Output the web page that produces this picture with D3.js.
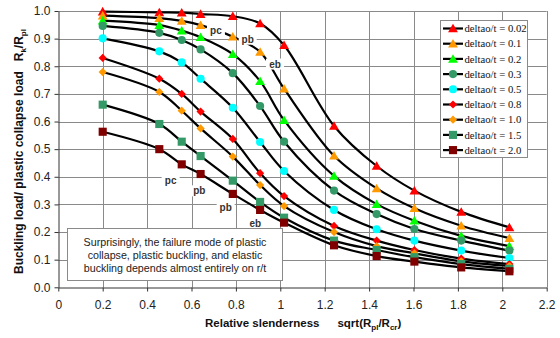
<!DOCTYPE html>
<html>
<head>
<meta charset="utf-8">
<script src="https://cdn.jsdelivr.net/npm/d3@7"></script>
<style>
  body { margin: 0; background: #fff; }
  svg { display: block; font-family: "Liberation Sans", Arial, sans-serif; }
</style>
</head>
<body>
<div id="chart"></div>
<script>
// relative slenderness values (x) shared by all series
const xValues = [0.2, 0.455, 0.556, 0.641, 0.786, 0.909, 1.017, 1.242, 1.434, 1.604, 1.815, 2.032];

// buckling load / plastic collapse load, one array per deltao/t
const s002 = [0.998, 0.995, 0.994, 0.989, 0.981, 0.955, 0.876, 0.584, 0.439, 0.350, 0.273, 0.217];
const s01  = [0.983, 0.974, 0.964, 0.949, 0.907, 0.852, 0.719, 0.476, 0.358, 0.286, 0.223, 0.178];
const s02  = [0.965, 0.949, 0.929, 0.905, 0.844, 0.746, 0.605, 0.403, 0.301, 0.241, 0.186, 0.149];
const s03  = [0.946, 0.921, 0.895, 0.861, 0.775, 0.656, 0.527, 0.350, 0.265, 0.211, 0.169, 0.133];
const s05  = [0.901, 0.854, 0.814, 0.755, 0.650, 0.526, 0.421, 0.280, 0.210, 0.169, 0.133, 0.106];
const s08  = [0.830, 0.755, 0.700, 0.636, 0.537, 0.413, 0.330, 0.222, 0.169, 0.135, 0.104, 0.084];
const s10  = [0.779, 0.707, 0.639, 0.575, 0.473, 0.370, 0.294, 0.200, 0.149, 0.123, 0.094, 0.077];
const s15  = [0.661, 0.591, 0.527, 0.475, 0.386, 0.309, 0.252, 0.169, 0.135, 0.109, 0.084, 0.067];
const s20  = [0.563, 0.500, 0.445, 0.410, 0.338, 0.280, 0.234, 0.152, 0.113, 0.093, 0.072, 0.058];

const seriesNames = ["deltao/t = 0.02", "deltao/t = 0.1", "deltao/t = 0.2", "deltao/t = 0.3",
  "deltao/t = 0.5", "deltao/t = 0.8", "deltao/t = 1.0", "deltao/t = 1.5", "deltao/t = 2.0"];
const seriesValues = [s002, s01, s02, s03, s05, s08, s10, s15, s20];
const seriesColors = ["#ff0000", "#ff9900", "#00ff00", "#339966", "#00ffff",
  "#ff0000", "#ff9900", "#339966", "#800000"];
const seriesShapes = ["triangle", "triangle", "triangle", "circle", "circle",
  "diamond", "diamond", "square", "square"];

const xTicks = [0, 0.2, 0.4, 0.6, 0.8, 1, 1.2, 1.4, 1.6, 1.8, 2, 2.2];
const xTickLabels = ["0", "0.2", "0.4", "0.6", "0.8", "1", "1.2", "1.4", "1.6", "1.8", "2", "2.2"];
const yTicks = [0, 0.1, 0.2, 0.3, 0.4, 0.5, 0.6, 0.7, 0.8, 0.9, 1.0];
const yTickLabels = ["0.0", "0.1", "0.2", "0.3", "0.4", "0.5", "0.6", "0.7", "0.8", "0.9", "1.0"];

// failure mode marks (in data units)
const modeLabels = ["pc", "pb", "eb", "pc", "pb", "pb", "eb"];
const modeX = [0.710, 0.853, 0.976, 0.506, 0.635, 0.754, 0.887];
const modeY = [0.931, 0.898, 0.808, 0.388, 0.349, 0.288, 0.232];

const noteLines = ["Surprisingly, the failure mode of plastic",
  "collapse, plastic buckling, and elastic",
  "buckling depends almost entirely on r/t"];

const width = 560, height = 338;
const plot = { left: 58.3, right: 546.7, top: 11, bottom: 287.3 };

const svg = d3.select("#chart").append("svg")
  .attr("width", width)
  .attr("height", height);

const x = d3.scaleLinear().domain([0, 2.2]).range([plot.left, plot.right]);
const y = d3.scaleLinear().domain([0, 1]).range([plot.bottom, plot.top]);

// grid
const grid = svg.append("g").attr("stroke", "#8a8a8a").attr("stroke-width", 1);
grid.selectAll("line.v").data(xTicks.slice(1)).enter().append("line")
  .attr("x1", d => Math.round(x(d)) + 0.5).attr("x2", d => Math.round(x(d)) + 0.5)
  .attr("y1", plot.top).attr("y2", plot.bottom);
grid.selectAll("line.h").data(yTicks.slice(1)).enter().append("line")
  .attr("x1", plot.left).attr("x2", plot.right)
  .attr("y1", d => Math.round(y(d)) + 0.5).attr("y2", d => Math.round(y(d)) + 0.5);

// axes
const xAxis = svg.append("g")
  .attr("transform", `translate(0,${Math.round(plot.bottom) + 0.5})`)
  .call(d3.axisBottom(x).tickValues(xTicks).tickSize(4).tickSizeOuter(0).tickPadding(9)
    .tickFormat((d, i) => xTickLabels[i]));
const yAxis = svg.append("g")
  .attr("transform", `translate(${Math.round(plot.left) + 0.5},0)`)
  .call(d3.axisLeft(y).tickValues(yTicks).tickSize(4).tickSizeOuter(0).tickPadding(4)
    .tickFormat((d, i) => yTickLabels[i]));
[xAxis, yAxis].forEach(a => {
  a.select(".domain").attr("stroke", "#333");
  a.selectAll(".tick line").attr("stroke", "#333");
  a.selectAll("text").attr("font-size", 12).attr("fill", "#222")
    .attr("font-family", "'Liberation Sans', Arial, sans-serif");
});

// curves
const line = d3.line()
  .x((d, i) => x(xValues[i]))
  .y(d => y(d))
  .curve(d3.curveCatmullRom.alpha(0.5));

svg.append("g").selectAll("path").data(seriesValues).enter().append("path")
  .attr("d", line)
  .attr("fill", "none")
  .attr("stroke", "#000")
  .attr("stroke-width", 2.2);

// diamond as a square turned 45 degrees
const squareDiamond = {
  draw(ctx, size) {
    const r = Math.sqrt(size / 2);
    ctx.moveTo(0, -r); ctx.lineTo(r, 0); ctx.lineTo(0, r); ctx.lineTo(-r, 0); ctx.closePath();
  }
};

function symbolFor(shape) {
  if (shape === "triangle") return d3.symbol().type(d3.symbolTriangle).size(42);
  if (shape === "circle") return d3.symbol().type(d3.symbolCircle).size(52);
  if (shape === "square") return d3.symbol().type(d3.symbolSquare).size(66);
  return d3.symbol().type(squareDiamond).size(34);
}

seriesValues.forEach((vals, k) => {
  svg.append("g").selectAll("path").data(vals).enter().append("path")
    .attr("transform", (d, i) => `translate(${x(xValues[i])},${y(d) + (seriesShapes[k] === "triangle" ? 1 : 0)})`)
    .attr("d", symbolFor(seriesShapes[k])())
    .attr("fill", seriesColors[k]);
});

// failure mode labels with white boxes
const modes = svg.append("g");
modeLabels.forEach((t, i) => {
  const g = modes.append("g").attr("transform", `translate(${x(modeX[i])},${y(modeY[i])})`);
  g.append("rect").attr("x", -9).attr("y", -5.5).attr("width", 18).attr("height", 11).attr("fill", "#fff");
  g.append("text").text(t)
    .attr("text-anchor", "middle").attr("dy", "0.35em")
    .attr("font-size", 10).attr("font-weight", "bold").attr("fill", "#333");
});

// note box
const note = svg.append("g");
note.append("rect")
  .attr("x", 67.5).attr("y", 228.5).attr("width", 215).attr("height", 52)
  .attr("fill", "#fff").attr("stroke", "#8a8a8a");
note.selectAll("text").data(noteLines).enter().append("text")
  .attr("x", 175).attr("y", (d, i) => 245.5 + i * 13)
  .attr("text-anchor", "middle").attr("font-size", 10.7).attr("fill", "#222")
  .text(d => d);

// legend
const legend = svg.append("g");
legend.append("rect")
  .attr("x", 440.5).attr("y", 20.5).attr("width", 87).attr("height", 137)
  .attr("fill", "#fff").attr("stroke", "#8a8a8a");
seriesNames.forEach((name, k) => {
  const ly = 28.5 + k * 15.2;
  legend.append("line").attr("x1", 443).attr("x2", 463).attr("y1", ly).attr("y2", ly)
    .attr("stroke", "#000").attr("stroke-width", 2.2);
  legend.append("path")
    .attr("transform", `translate(453,${ly + (seriesShapes[k] === "triangle" ? 1 : 0)})`)
    .attr("d", symbolFor(seriesShapes[k])())
    .attr("fill", seriesColors[k]);
  legend.append("text").attr("x", 464.5).attr("y", ly).attr("dy", "0.35em")
    .attr("font-family", "'Liberation Serif', 'Times New Roman', serif")
    .attr("font-size", 10.7).attr("fill", "#111").text(name);
});

// axis titles
const xTitle = svg.append("text")
  .attr("x", 205).attr("y", 327)
  .attr("font-size", 11.5).attr("font-weight", "bold").attr("fill", "#111");
xTitle.append("tspan").text("Relative slenderness");
xTitle.append("tspan").attr("dx", 18).text("sqrt(R");
xTitle.append("tspan").attr("font-size", 8).attr("dy", 3).text("pl");
xTitle.append("tspan").attr("dy", -3).text("/R");
xTitle.append("tspan").attr("font-size", 8).attr("dy", 3).text("cr");
xTitle.append("tspan").attr("dy", -3).text(")");

const yTitle = svg.append("text")
  .attr("transform", "translate(23,274) rotate(-90)")
  .attr("font-size", 12).attr("font-weight", "bold").attr("fill", "#111");
yTitle.append("tspan").text("Buckling load/ plastic collapse load");
yTitle.append("tspan").attr("dx", 10).text("R");
yTitle.append("tspan").attr("font-size", 8).attr("dy", 3).text("k");
yTitle.append("tspan").attr("dy", -3).text("/R");
yTitle.append("tspan").attr("font-size", 8).attr("dy", 3).text("pl");
</script>
</body>
</html>
